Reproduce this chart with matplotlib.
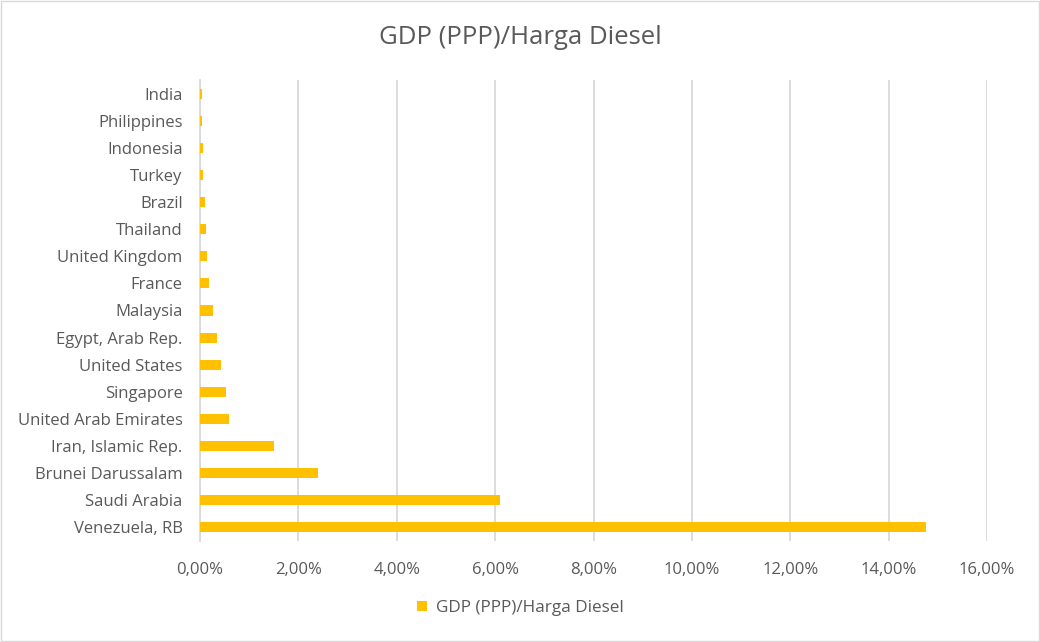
import numpy as np
import matplotlib.pyplot as plt
from matplotlib.ticker import FuncFormatter

plt.rcParams['font.family'] = ['Open Sans', 'DejaVu Sans']

countries = ["Venezuela, RB", "Saudi Arabia", "Brunei Darussalam", "Iran, Islamic Rep.",
             "United Arab Emirates", "Singapore", "United States", "Egypt, Arab Rep.",
             "Malaysia", "France", "United Kingdom", "Thailand", "Brazil", "Turkey",
             "Indonesia", "Philippines", "India"]
values = [14.75, 6.10, 2.40, 1.50, 0.59, 0.53, 0.43, 0.35, 0.27, 0.18, 0.14, 0.12,
          0.10, 0.06, 0.06, 0.04, 0.04]
ticks = [0, 2, 4, 6, 8, 10, 12, 14, 16]

fig = plt.figure(figsize=(10.4, 6.42), dpi=100)
ax = fig.add_axes([200/1040, 1-541/642, 787/1040, 461/642])

y = np.arange(len(countries))
ax.barh(y, values, height=0.37, color='#FFC000', label='GDP (PPP)/Harga Diesel', zorder=3)
ax.set_ylim(-0.5, len(countries)-0.5)
ax.set_yticks(y)
ax.set_yticklabels(countries)
ax.set_xlim(0, 16)
ax.set_xticks(ticks)
ax.xaxis.set_major_formatter(FuncFormatter(lambda v, p: ('%.2f' % v).replace('.', ',') + '%'))
ax.grid(axis='x', color='#D9D9D9', linewidth=1.3, zorder=0)
for s in ['top', 'right', 'bottom']:
    ax.spines[s].set_visible(False)
ax.spines['left'].set_color('#D9D9D9')
ax.spines['left'].set_linewidth(1.3)
ax.tick_params(length=0, labelsize=12, colors='#595959')
ax.tick_params(axis='y', pad=12.5)
ax.tick_params(axis='x', pad=15)

fig.suptitle('GDP (PPP)/Harga Diesel', y=1-38/642, va='center', fontsize=18.5, color='#595959')
fig.legend(loc='center', bbox_to_anchor=(0.5, 1-608/642), frameon=False, fontsize=12.3,
           labelcolor='#595959', handlelength=0.6, handleheight=0.6, handletextpad=0.5)

fig.patches.append(plt.Rectangle((0.001, 0.001), 0.998, 0.997, transform=fig.transFigure,
                                 fill=False, edgecolor='#D9D9D9', linewidth=1))
fig.savefig('out.png', dpi=100)
